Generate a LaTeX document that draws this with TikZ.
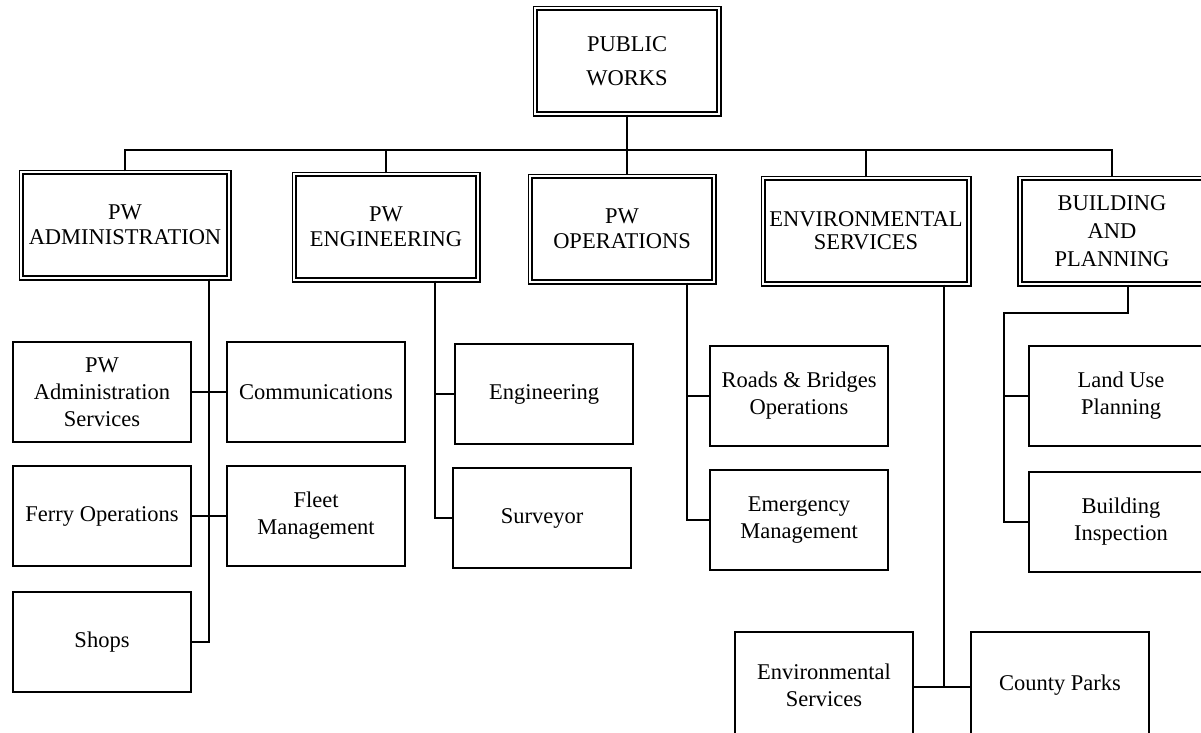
\documentclass[tikz,border=0pt]{standalone}
\usepackage{fontspec}
\setmainfont{Liberation Serif}
\usetikzlibrary{positioning, calc}
\tikzset{
    dept/.style={draw, double, line width=1.8pt, double distance=2pt, align=center, inner sep=0pt,
        minimum width=#1, minimum height=105.4pt, font=\fontsize{22.5}{25}\selectfont},
    dept/.default=183.4pt,
    office/.style={draw, line width=1.8pt, align=center, inner sep=0pt,
        minimum width=178.4pt, minimum height=100.4pt, font=\fontsize{22.5}{27}\selectfont},
    wire/.style={draw, line width=2pt}
}
\begin{document}
\begin{tikzpicture}[x=1pt, y=-1pt]
        \useasboundingbox (0,0) rectangle (1201,732);
        \clip (0,0) rectangle (1201,732);
        %Frames
        \node[dept, font=\fontsize{22.5}{34}\selectfont] (pw) at (627,61) {PUBLIC\\WORKS};
        \node[dept=207.4pt] (adm) at (125,225) {PW\\ADMINISTRATION};
        \node[dept] (eng) at (386,227) {PW\\ENGINEERING};
        \node[dept] (ops) at (622,229) {PW\\OPERATIONS};
        \node[dept=205.4pt, font=\fontsize{22.5}{23}\selectfont] (env) at (866,231) {ENVIRONMENTAL\\SERVICES};
        \node[dept=184.4pt, font=\fontsize{22.5}{28}\selectfont] (bap) at (1112,231) {BUILDING\\AND\\PLANNING};
        \foreach \name/\x/\y/\txt in {admsrv/102/392/{PW\\Administration\\Services}, comm/316/392/Communications,
            ferry/102/516/{Ferry Operations}, fleet/316/516/{Fleet\\Management}, shops/102/642/Shops,
            engr/544/394/Engineering, surv/542/518/Surveyor,
            roads/799/396/{Roads \& Bridges\\Operations}, emerg/799/520/{Emergency\\Management}}{
            \node[office] (\name) at (\x,\y) {\txt};
        }
        \node[office, minimum height=106.4pt] (envsrv) at (824,685) {Environmental\\Services};
        \node[office, minimum height=106.4pt] (parks) at (1060,685) {County Parks};
        \node[office, minimum width=184.4pt] (land) at (1121,396) {Land Use\\Planning};
        \node[office, minimum width=184.4pt] (insp) at (1121,522) {Building\\Inspection};
        %Extra coordinates for path
        \coordinate (bus) at (0,150);
        \coordinate (admT) at (209,0);
        \coordinate (engT) at (435,0);
        \coordinate (opsT) at (687,0);
        \coordinate (envJ) at (944,687);
        \coordinate (bapT) at (1004,313);
        \coordinate (bapD) at (1128,0);
        %Paths (top-down, left-right)
        \draw[wire] (pw.south) -- (pw.south |- ops.north);
        \draw[wire] (adm.north) -- (adm.north |- bus) -- (bap.north |- bus) -- (bap.north);
        \foreach \dep in {eng, env}{
            \draw[wire] (\dep.north) -- (\dep.north |- bus);
        }
        \draw[wire] (adm.south -| admT) -- (admT |- shops.east) -- (shops.east);
        \draw[wire] (admsrv.east) -- (comm.west);
        \draw[wire] (ferry.east) -- (fleet.west);
        \draw[wire] (eng.south -| engT) -- (engT |- surv.west) -- (surv.west);
        \draw[wire] (engT |- engr.west) -- (engr.west);
        \draw[wire] (ops.south -| opsT) -- (opsT |- emerg.west) -- (emerg.west);
        \draw[wire] (opsT |- roads.west) -- (roads.west);
        \draw[wire] (env.south -| envJ) -- (envJ);
        \draw[wire] (envsrv.east |- envJ) -- (parks.west |- envJ);
        \draw[wire] (bap.south -| bapD) |- (bapT) -- (bapT |- insp.west) -- (insp.west);
        \draw[wire] (bapT |- land.west) -- (land.west);
    \end{tikzpicture}
\end{document}
